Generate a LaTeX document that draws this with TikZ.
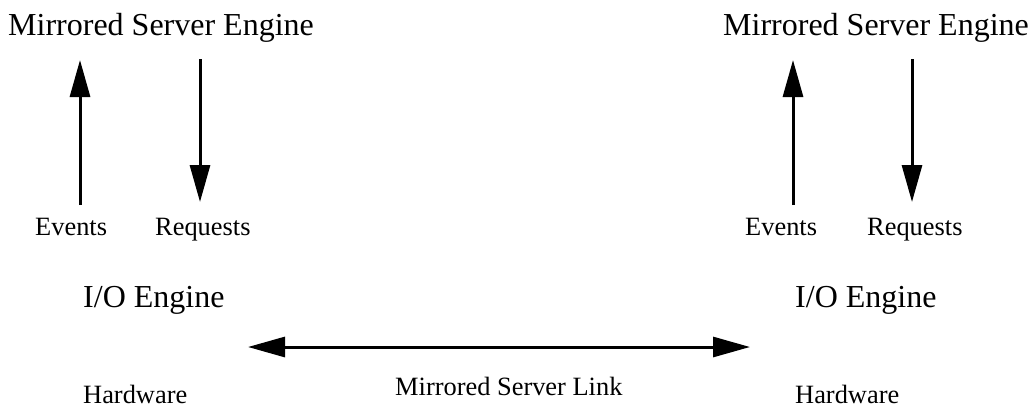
\documentclass[tikz,border=0pt]{standalone}
\usepackage{fontspec}
\setmainfont{Liberation Serif}
\usetikzlibrary{arrows.meta}
\begin{document}
\begin{tikzpicture}[x=1pt,y=-1pt,
  big/.style={anchor=base west,inner sep=0pt,font=\fontsize{32}{38}\selectfont},
  small/.style={anchor=base west,inner sep=0pt,font=\fontsize{26.4}{32}\selectfont},
  flow/.style={line width=3pt,-{Triangle[length=37pt,width=20pt]}},
  link/.style={line width=3pt,{Triangle[length=37pt,width=20pt]}-{Triangle[length=37pt,width=20pt]}}]
\useasboundingbox (0,0) rectangle (1031,408);
% left side
\node[big] (mseL) at (8,35) {Mirrored Server Engine};
\node[small] (evL) at (35,235) {Events};
\node[small] (rqL) at (155,235) {Requests};
\node[big] (ioL) at (83,307) {I/O Engine};
\node[small] (hwL) at (83,403) {Hardware};
% right side
\node[big] (mseR) at (723,35) {Mirrored Server Engine};
\node[small] (evR) at (745,235) {Events};
\node[small] (rqR) at (867,235) {Requests};
\node[big] (ioR) at (795,307) {I/O Engine};
\node[small] (hwR) at (795,403) {Hardware};
% link label
\node[small] (lnk) at (395,395) {Mirrored Server Link};
% arrow end points
\coordinate (eLb) at (80,205);  \coordinate (eLt) at (80,60);
\coordinate (rLt) at (200,59);  \coordinate (rLb) at (200,202);
\coordinate (eRb) at (793,205); \coordinate (eRt) at (793,60);
\coordinate (rRt) at (912,59);  \coordinate (rRb) at (912,202);
\coordinate (kL) at (248,347);  \coordinate (kR) at (750,347);
\draw[flow] (eLb) -- (eLt);
\draw[flow] (rLt) -- (rLb);
\draw[flow] (eRb) -- (eRt);
\draw[flow] (rRt) -- (rRb);
\draw[link] (kL) -- (kR);
\end{tikzpicture}
\end{document}
